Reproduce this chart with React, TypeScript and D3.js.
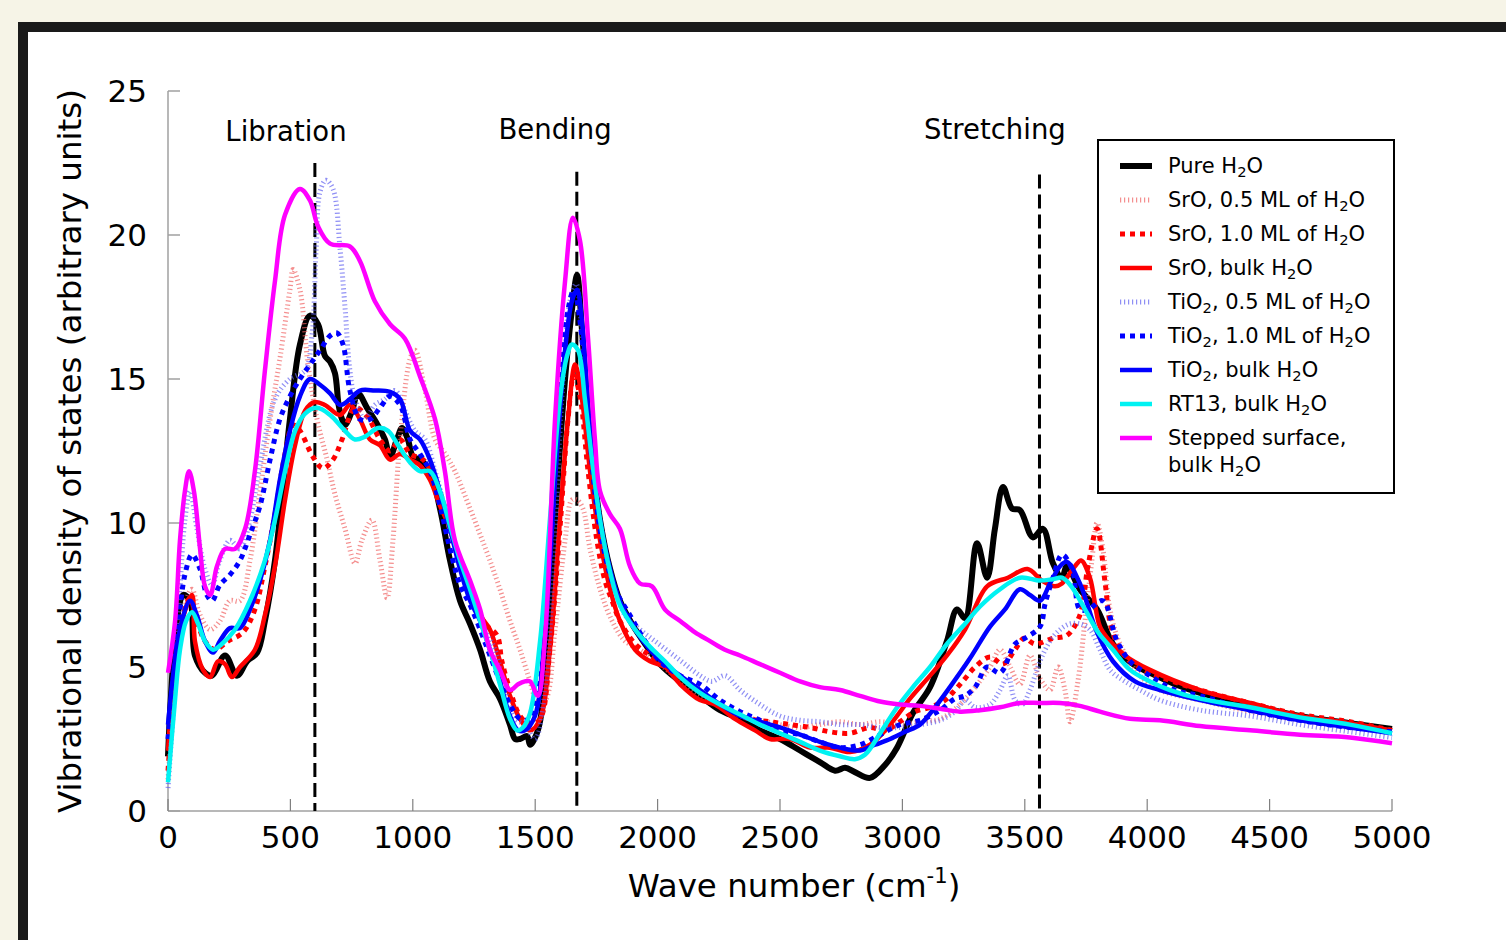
import React from "react";
import * as d3 from "d3";

type P = [number, number];

const xTicks = [0, 500, 1000, 1500, 2000, 2500, 3000, 3500, 4000, 4500, 5000];
const yTicks = [0, 5, 10, 15, 20, 25];

const modeNames = ["Libration", "Bending", "Stretching"];
const modeLineX = [600, 1670, 3560];
const modeLineTop = [22.5, 22.2, 22.1];
const modeLabelX = [482, 1581, 3378];
const modeLabelY = [23.25, 23.35, 23.35];

const pureH2O: P[] = [[0,1.9],[61,7.5],[90,7.3],[110,5.4],[151,4.8],[180,4.7],[233,5.4],[282,4.7],[323,5.2],[364,5.5],[396,6.6],[437,8.7],[498,13.6],[539,16.2],[580,17.2],[613,16.9],[641,15.8],[662,15.6],[682,15.2],[697,14.1],[711,13.6],[723,13.4],[752,13.9],[776,14.5],[813,14.0],[850,13.5],[886,12.9],[907,12.3],[935,12.9],[956,13.3],[980,12.9],[1001,12.3],[1029,12.2],[1070,11.8],[1111,10.5],[1152,8.7],[1193,7.3],[1234,6.5],[1275,5.6],[1315,4.5],[1356,3.9],[1397,3.0],[1418,2.5],[1438,2.5],[1467,2.6],[1479,2.3],[1511,2.8],[1540,4.5],[1581,10.1],[1622,15.0],[1650,17.4],[1671,18.6],[1691,16.7],[1724,12.9],[1765,10.1],[1806,8.4],[1846,7.3],[1895,6.5],[1949,5.8],[2010,5.1],[2092,4.5],[2173,4.0],[2255,3.5],[2337,3.2],[2418,2.8],[2500,2.5],[2582,2.1],[2663,1.7],[2725,1.4],[2766,1.5],[2806,1.35],[2868,1.15],[2929,1.6],[2978,2.2],[3043,3.4],[3113,4.3],[3182,5.9],[3223,7.0],[3256,6.7],[3305,9.3],[3346,8.1],[3378,9.8],[3411,11.25],[3448,10.5],[3480,10.45],[3533,9.5],[3574,9.8],[3615,8.6],[3652,8.1],[3672,8.5],[3725,7.7],[3795,7.0],[3860,5.8],[3942,5.1],[4011,4.8],[4114,4.4],[4216,4.1],[4420,3.7],[4624,3.3],[4828,3.05],[5000,2.85]];

const sroHalf: P[] = [[0,1.1],[49,5.9],[82,7.5],[98,7.7],[131,6.8],[172,6.3],[212,6.6],[253,7.3],[294,7.3],[335,8.7],[376,11.1],[417,13.6],[457,15.7],[498,18.1],[511,18.8],[539,18.1],[572,15.5],[609,13.6],[650,12.2],[682,11.0],[723,9.8],[764,8.6],[792,9.4],[833,10.1],[866,8.7],[895,7.4],[919,9.4],[948,12.9],[989,15.7],[1009,16.0],[1050,14.6],[1091,12.9],[1132,12.4],[1172,11.8],[1234,10.5],[1275,9.6],[1315,8.7],[1356,7.7],[1397,6.6],[1438,5.6],[1479,4.5],[1507,3.85],[1540,3.85],[1581,6.3],[1622,9.4],[1650,10.8],[1671,10.8],[1695,10.5],[1724,9.1],[1765,7.7],[1814,6.6],[1867,5.9],[1928,5.6],[2010,5.1],[2092,4.5],[2173,4.0],[2255,3.7],[2337,3.3],[2418,3.15],[2500,3.0],[2582,2.9],[2663,3.0],[2745,3.1],[2827,3.0],[2909,3.1],[2990,3.0],[3072,3.1],[3154,3.2],[3235,3.7],[3297,4.3],[3358,5.0],[3399,5.6],[3440,5.0],[3480,4.4],[3521,5.4],[3562,4.6],[3603,4.2],[3636,5.0],[3664,4.2],[3685,3.1],[3717,4.5],[3746,6.6],[3774,8.7],[3795,10.0],[3819,9.1],[3848,7.0],[3889,5.8],[3971,4.7],[4052,4.2],[4216,3.85],[4420,3.45],[4624,3.15],[4828,2.9],[5000,2.75]];

const sroOne: P[] = [[0,1.4],[41,5.6],[69,7.0],[90,7.4],[118,6.6],[151,5.9],[192,5.6],[245,5.9],[306,6.2],[355,7.0],[396,8.5],[437,10.3],[478,12.4],[511,13.4],[539,13.2],[592,12.3],[633,11.9],[674,12.2],[711,12.9],[764,14.0],[813,13.7],[866,12.9],[907,12.5],[948,12.9],[989,12.4],[1042,12.2],[1091,11.5],[1132,10.5],[1172,9.2],[1213,8.2],[1254,7.3],[1295,6.5],[1344,6.1],[1364,5.2],[1397,4.2],[1438,3.3],[1479,3.0],[1520,3.2],[1560,5.6],[1601,9.8],[1634,13.6],[1658,15.1],[1683,14.4],[1716,11.8],[1752,9.4],[1785,8.0],[1814,7.3],[1846,6.6],[1908,5.8],[1969,5.4],[2051,4.9],[2133,4.4],[2214,3.85],[2296,3.45],[2377,3.2],[2459,3.1],[2541,3.0],[2623,2.9],[2704,2.75],[2786,2.7],[2868,2.9],[2929,2.8],[2990,3.1],[3051,3.45],[3113,3.6],[3174,3.85],[3215,4.2],[3256,4.6],[3297,5.0],[3358,5.35],[3411,5.1],[3460,5.6],[3497,6.0],[3542,5.8],[3615,6.0],[3672,6.1],[3725,6.8],[3758,8.5],[3795,9.8],[3827,8.0],[3852,6.4],[3890,5.6],[3930,5.2],[4011,4.8],[4216,4.2],[4420,3.75],[4624,3.35],[4828,3.1],[5000,2.8]];

const sroBulk: P[] = [[0,2.1],[49,6.3],[98,7.5],[110,5.9],[143,4.9],[172,4.65],[204,5.2],[233,5.1],[261,4.65],[294,5.0],[355,5.6],[396,6.8],[437,8.5],[478,10.8],[519,12.7],[560,13.9],[600,14.2],[641,14.1],[703,13.75],[743,14.1],[784,13.6],[825,12.9],[866,12.7],[907,12.2],[948,12.4],[989,12.2],[1029,12.0],[1070,11.5],[1111,10.6],[1152,9.8],[1193,8.7],[1234,7.7],[1275,6.8],[1315,6.3],[1356,5.2],[1397,4.0],[1438,3.2],[1479,2.8],[1520,3.2],[1560,5.6],[1601,10.1],[1634,13.6],[1663,15.5],[1691,14.3],[1724,11.8],[1765,9.4],[1806,7.7],[1846,6.6],[1908,5.6],[1969,5.2],[2030,5.0],[2092,4.4],[2173,3.85],[2234,3.7],[2316,3.2],[2398,2.8],[2459,2.5],[2541,2.5],[2623,2.2],[2704,2.2],[2786,2.05],[2868,2.3],[2950,3.0],[3031,3.9],[3113,4.7],[3182,5.4],[3256,6.3],[3346,7.8],[3431,8.1],[3511,8.4],[3570,8.0],[3623,7.8],[3652,7.9],[3705,8.5],[3730,8.7],[3766,8.1],[3807,6.4],[3848,5.9],[3909,5.4],[4011,4.9],[4216,4.2],[4420,3.75],[4624,3.3],[4828,3.05],[5000,2.8]];

const tioHalf: P[] = [[0,0.8],[29,4.5],[49,7.7],[69,10.1],[90,11.1],[118,9.8],[151,8.4],[180,7.85],[212,8.7],[253,9.4],[294,9.1],[335,10.1],[376,12.0],[437,14.3],[498,15.0],[560,15.3],[588,16.5],[605,19.5],[621,21.5],[645,21.9],[674,21.6],[703,19.5],[723,17.5],[743,15.3],[764,14.3],[805,13.6],[845,14.1],[886,14.3],[927,14.6],[968,13.9],[1009,13.2],[1050,12.9],[1091,11.8],[1132,10.5],[1172,9.2],[1213,8.2],[1254,7.3],[1295,6.3],[1336,5.6],[1377,4.2],[1418,3.2],[1458,3.0],[1499,2.5],[1540,4.2],[1581,9.8],[1614,15.0],[1642,17.7],[1667,18.3],[1691,16.7],[1724,13.2],[1765,10.1],[1814,8.0],[1867,6.8],[1928,6.3],[1989,5.9],[2051,5.5],[2112,5.1],[2173,4.7],[2222,4.5],[2275,4.7],[2337,4.2],[2418,3.7],[2500,3.3],[2582,3.15],[2663,3.1],[2745,3.0],[2827,3.0],[2909,2.9],[2990,2.9],[3072,3.0],[3154,3.15],[3215,3.45],[3256,3.85],[3297,3.6],[3358,3.7],[3399,4.2],[3431,4.7],[3460,3.85],[3489,3.7],[3521,4.2],[3562,5.2],[3603,5.9],[3644,6.3],[3685,6.5],[3725,6.5],[3766,6.3],[3807,5.6],[3848,4.9],[3909,4.5],[3971,4.2],[4052,3.85],[4216,3.5],[4420,3.3],[4624,3.0],[4828,2.75],[5000,2.55]];

const tioOne: P[] = [[0,2.5],[41,6.3],[69,8.2],[98,8.9],[131,8.4],[159,7.5],[180,7.3],[212,7.85],[253,8.2],[294,8.7],[335,9.6],[376,10.6],[417,12.2],[457,13.6],[498,14.4],[539,15.0],[580,15.5],[621,16.0],[662,16.5],[690,16.6],[715,16.2],[743,14.6],[784,13.6],[825,13.6],[866,14.0],[907,14.4],[948,14.1],[989,12.9],[1029,12.4],[1070,11.8],[1111,10.6],[1152,9.1],[1193,7.85],[1234,7.15],[1275,6.3],[1315,5.4],[1356,4.5],[1397,3.7],[1438,3.2],[1479,3.2],[1520,4.5],[1560,8.7],[1601,14.3],[1634,17.4],[1658,18.1],[1683,17.0],[1716,13.6],[1752,10.5],[1785,8.9],[1826,7.7],[1887,6.8],[1949,5.9],[2010,5.2],[2092,4.7],[2173,4.4],[2255,3.85],[2337,3.45],[2418,3.15],[2500,2.8],[2582,2.65],[2663,2.4],[2745,2.2],[2827,2.3],[2909,2.65],[2990,3.0],[3072,3.15],[3154,3.5],[3215,3.9],[3256,4.0],[3297,4.3],[3346,5.0],[3399,4.8],[3460,5.8],[3501,6.0],[3562,6.4],[3583,7.2],[3615,8.1],[3652,8.9],[3693,8.4],[3725,7.0],[3760,7.0],[3819,7.3],[3877,5.9],[3930,5.2],[4011,4.7],[4114,4.2],[4216,4.0],[4420,3.5],[4624,3.15],[4828,2.9],[5000,2.75]];

const tioBulk: P[] = [[0,3.0],[49,6.3],[90,7.3],[118,6.8],[151,5.9],[184,5.5],[212,5.9],[253,6.35],[294,6.35],[335,7.0],[376,8.0],[417,9.4],[457,11.5],[498,13.2],[539,14.4],[580,15.0],[621,14.8],[662,14.5],[703,14.1],[743,14.3],[784,14.6],[845,14.6],[907,14.55],[948,14.3],[989,13.2],[1029,12.9],[1070,12.2],[1111,11.1],[1152,9.8],[1193,8.4],[1234,7.3],[1275,6.6],[1315,5.6],[1356,4.5],[1397,3.3],[1430,2.8],[1458,2.8],[1499,3.3],[1540,6.3],[1581,11.5],[1622,16.0],[1650,17.7],[1671,18.1],[1691,17.0],[1724,13.2],[1765,10.1],[1806,8.4],[1846,7.3],[1908,6.3],[1969,5.6],[2030,5.1],[2092,4.7],[2173,4.2],[2255,3.7],[2337,3.3],[2418,3.1],[2500,2.9],[2582,2.65],[2663,2.4],[2745,2.2],[2827,2.1],[2888,2.3],[2950,2.5],[3011,2.75],[3072,3.0],[3133,3.6],[3194,4.3],[3276,5.3],[3358,6.4],[3419,7.0],[3480,7.7],[3521,7.5],[3562,7.3],[3603,7.9],[3644,8.5],[3672,8.65],[3725,7.9],[3795,6.2],[3860,5.2],[3950,4.5],[4052,4.2],[4216,3.85],[4420,3.5],[4624,3.15],[4828,2.9],[5000,2.7]];

const rt13Bulk: P[] = [[0,1.0],[29,3.9],[49,5.6],[74,6.6],[98,6.9],[123,6.5],[151,5.9],[184,5.6],[220,5.8],[274,6.3],[335,7.3],[396,8.7],[437,10.1],[478,11.8],[519,13.2],[560,13.8],[609,14.0],[662,13.75],[723,13.2],[764,12.9],[805,13.0],[858,13.3],[899,13.2],[940,12.7],[989,12.1],[1029,11.8],[1070,11.8],[1111,11.1],[1152,9.9],[1193,8.7],[1234,7.7],[1275,6.6],[1315,5.6],[1356,4.4],[1397,3.2],[1426,2.8],[1450,2.9],[1479,3.4],[1520,5.9],[1560,10.1],[1601,14.3],[1630,15.8],[1650,16.2],[1675,16.0],[1703,14.3],[1732,12.2],[1765,10.1],[1806,8.3],[1846,7.15],[1908,6.3],[1969,5.7],[2030,5.2],[2092,4.65],[2173,4.1],[2255,3.7],[2337,3.35],[2418,3.0],[2500,2.7],[2582,2.4],[2663,2.1],[2745,1.9],[2806,1.8],[2847,1.95],[2909,2.7],[2970,3.5],[3043,4.3],[3113,5.0],[3182,5.8],[3256,6.5],[3317,7.1],[3399,7.7],[3480,8.1],[3562,8.0],[3615,8.05],[3652,8.1],[3690,7.8],[3746,7.0],[3800,6.2],[3860,5.6],[3930,4.9],[4011,4.5],[4093,4.2],[4216,3.9],[4420,3.6],[4624,3.25],[4828,3.0],[5000,2.7]];

const steppedBulk: P[] = [[0,4.8],[29,6.6],[49,9.4],[69,11.1],[86,11.8],[106,11.1],[131,9.1],[151,7.8],[172,7.5],[200,8.5],[233,9.1],[274,9.1],[315,9.8],[355,11.8],[396,15.3],[437,18.4],[478,20.7],[539,21.6],[580,21.2],[613,20.3],[662,19.7],[743,19.6],[784,19.1],[845,17.7],[907,16.9],[968,16.4],[1029,15.1],[1091,13.6],[1131,11.8],[1172,9.4],[1234,8.0],[1275,7.0],[1315,5.6],[1356,4.9],[1397,4.2],[1430,4.4],[1458,4.5],[1479,4.5],[1511,4.0],[1540,6.0],[1581,13.6],[1622,18.4],[1654,20.6],[1683,19.8],[1716,16.4],[1744,12.9],[1765,11.1],[1806,10.3],[1846,9.8],[1887,8.5],[1928,7.9],[1977,7.8],[2030,7.0],[2092,6.6],[2153,6.2],[2214,5.9],[2275,5.6],[2337,5.4],[2418,5.1],[2500,4.8],[2582,4.5],[2663,4.3],[2745,4.2],[2827,4.0],[2909,3.8],[2990,3.7],[3072,3.65],[3154,3.55],[3235,3.45],[3317,3.5],[3399,3.6],[3480,3.75],[3562,3.75],[3644,3.75],[3725,3.65],[3807,3.45],[3930,3.2],[4052,3.15],[4216,2.95],[4420,2.8],[4624,2.65],[4828,2.55],[5000,2.35]];

const seriesData: P[][] = [pureH2O, sroHalf, sroOne, sroBulk, tioHalf, tioOne, tioBulk, rt13Bulk, steppedBulk];
const seriesLabels: string[][] = [
  ["Pure H_2O"],
  ["SrO, 0.5 ML of H_2O"],
  ["SrO, 1.0 ML of H_2O"],
  ["SrO, bulk H_2O"],
  ["TiO_2, 0.5 ML of H_2O"],
  ["TiO_2, 1.0 ML of H_2O"],
  ["TiO_2, bulk H_2O"],
  ["RT13, bulk H_2O"],
  ["Stepped surface,", "bulk H_2O"],
];
const seriesColors = ["#000000", "#f06060", "#ff0000", "#ff0000", "#6060f0", "#0000ff", "#0000ff", "#00f2f2", "#ff00ff"];
const seriesWidths = [6, 5, 5, 4.5, 5, 5, 4.5, 4.5, 4.5];
const seriesDash = ["", "1.2,2.8", "5,5", "", "1.2,2.8", "5,5", "", "", ""];
const seriesOpacity = [1, 0.7, 1, 1, 0.7, 1, 1, 1, 1];

const FONT = "'DejaVu Sans', sans-serif";

function Rich({ text }: { text: string }) {
  const parts = text.split("_2");
  const out: React.ReactNode[] = [];
  parts.forEach((p, i) => {
    if (i > 0) {
      out.push(<tspan key={"s" + i} fontSize="0.7em" dy={5}>2</tspan>);
      out.push(<tspan key={"t" + i} dy={-5}>{p}</tspan>);
    } else {
      out.push(<tspan key={"t" + i}>{p}</tspan>);
    }
  });
  return <>{out}</>;
}

export default function App() {
  const x = d3.scaleLinear().domain([0, 5000]).range([168, 1392]);
  const y = d3.scaleLinear().domain([0, 25]).range([811, 91]);
  const line = d3
    .line<P>()
    .x((d) => x(d[0]))
    .y((d) => y(d[1]))
    .curve(d3.curveCatmullRom.alpha(0.5));

  const legendX = 1098;
  const legendY = 140;
  const rowH = 34;

  return (
    <div style={{ position: "fixed", left: 0, top: 0, width: 1506, height: 940, background: "#f6f4e7", overflow: "hidden" }}>
      <svg width={1506} height={940} style={{ display: "block" }} fontFamily={FONT}>
        <rect x={23} y={27} width={1600} height={1000} fill="#ffffff" stroke="#1a1a1a" strokeWidth={10} />

        {/* axes */}
        <line x1={x(0)} x2={x(0)} y1={y(0)} y2={y(25)} stroke="#a0a0a0" strokeWidth={1.5} />
        <line x1={x(0)} x2={x(5000)} y1={y(0)} y2={y(0)} stroke="#a0a0a0" strokeWidth={1.5} />
        {yTicks.map((t) => (
          <g key={"yt" + t}>
            <line x1={x(0)} x2={x(0) + 12} y1={y(t)} y2={y(t)} stroke="#a0a0a0" strokeWidth={1.5} />
            <text x={147} y={y(t)} textAnchor="end" dominantBaseline="central" fontSize={31} fill="#000">{t}</text>
          </g>
        ))}
        {xTicks.map((t) => (
          <g key={"xt" + t}>
            <line x1={x(t)} x2={x(t)} y1={y(0)} y2={y(0) - 12} stroke="#808080" strokeWidth={1.2} />
            <text x={x(t)} y={848} textAnchor="middle" fontSize={31} fill="#000">{t}</text>
          </g>
        ))}
        <text transform={`translate(70,${(y(0) + y(25)) / 2}) rotate(-90)`} textAnchor="middle" dominantBaseline="central" fontSize={32.5} fill="#000">
          Vibrational density of states (arbitrary units)
        </text>
        <text x={794} y={897} textAnchor="middle" fontSize={32.5} fill="#000">
          Wave number (cm<tspan fontSize="0.65em" dy={-14}>-1</tspan><tspan dy={14}>)</tspan>
        </text>

        {/* mode markers */}
        {modeLineX.map((m, i) => (
          <line key={"ml" + i} x1={x(m)} x2={x(m)} y1={y(modeLineTop[i])} y2={y(0)} stroke="#000" strokeWidth={3} strokeDasharray="14,6" />
        ))}
        {modeNames.map((n, i) => (
          <text key={"mn" + i} x={x(modeLabelX[i])} y={y(modeLabelY[i])} textAnchor="middle" fontSize={27.5} fill="#000">{n}</text>
        ))}

        {/* series */}
        {seriesData.map((d, i) => (
          <path
            key={"s" + i}
            d={line(d) || ""}
            fill="none"
            stroke={seriesColors[i]}
            strokeWidth={seriesWidths[i]}
            strokeDasharray={seriesDash[i] || undefined}
            strokeOpacity={seriesOpacity[i]}
            strokeLinejoin="round"
          />
        ))}

        {/* legend */}
        <rect x={legendX} y={legendY} width={296} height={353} fill="#ffffff" stroke="#000" strokeWidth={2} />
        {seriesLabels.map((lab, i) => {
          const ry = legendY + 26 + i * rowH;
          return (
            <g key={"lg" + i}>
              <line x1={legendX + 22} x2={legendX + 54} y1={ry} y2={ry} stroke={seriesColors[i]} strokeWidth={seriesWidths[i]} strokeDasharray={seriesDash[i] || undefined} strokeOpacity={seriesOpacity[i]} />
              {lab.map((t, j) => (
                <text key={j} x={legendX + 70} y={ry + j * 27} dominantBaseline="central" fontSize={21} fill="#000">
                  <Rich text={t} />
                </text>
              ))}
            </g>
          );
        })}
      </svg>
    </div>
  );
}
